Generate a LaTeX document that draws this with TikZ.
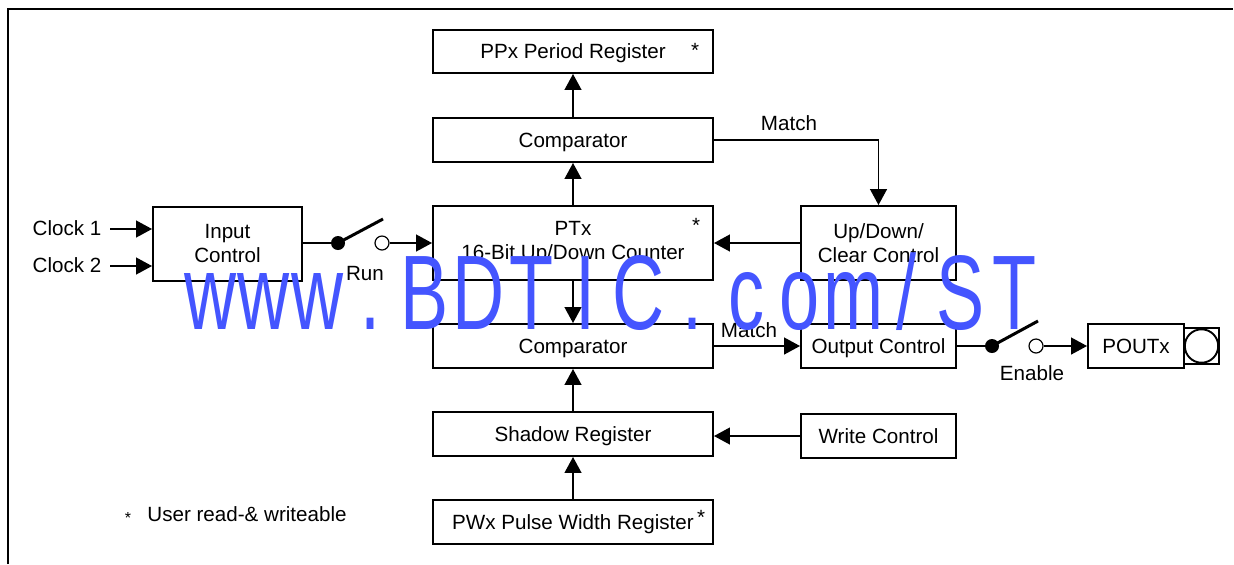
\documentclass[tikz,border=0pt]{standalone}
\usepackage{fontspec}
\usepackage{graphicx}
\setmainfont{Liberation Sans}
\usetikzlibrary{arrows.meta}
\definecolor{wmblue}{RGB}{68,85,255}
\newcommand\wmcell[1]{\makebox[26.8pt][c]{\scalebox{0.68}[1]{#1}}}
\begin{document}
\begin{tikzpicture}[x=0.5pt,y=-0.5pt,
  every node/.style={font=\fontsize{10.3}{12}\selectfont},
  box/.style={draw,line width=0.95pt,inner sep=0pt,align=center},
  onebox/.style={box,text depth=0pt},
  lbl/.style={inner sep=0pt},
  starmark/.style={inner sep=0pt,anchor=north},
  arr/.style={line width=0.95pt,-{Triangle[length=8pt,width=8.4pt]}},
  wire/.style={line width=0.95pt},
  lever/.style={line width=1.5pt},
  pindot/.style={circle,fill,inner sep=0pt,minimum size=7pt},
  pinopen/.style={circle,draw,line width=0.6pt,inner sep=0pt,minimum size=7pt}]
\useasboundingbox (0,0) rectangle (1234,564);
% frame
\draw[line width=0.9pt] (8,564) -- (8,9) -- (1233,9);
% boxes
\node[onebox,minimum width=140pt,minimum height=21.5pt] (ppx) at (573,51.5) {PPx Period Register};
\node[starmark] (ppxs) at (695,43) {*};
\node[onebox,minimum width=140pt,minimum height=22pt] (cmpa) at (573,140) {Comparator};
\node[box,minimum width=140pt,minimum height=37pt] (ptx) at (573,243) {PTx\\16-Bit Up/Down Counter};
\node[starmark] (ptxs) at (696,218) {*};
\node[box,minimum width=77.5pt,minimum height=37pt] (udc) at (878.5,243) {Up/Down/\\Clear Control};
\node[box,minimum width=74.5pt,minimum height=37pt] (inp) at (227.5,244) {Input\\Control};
\node[onebox,minimum width=140pt,minimum height=22pt] (cmpb) at (573,346) {Comparator};
\node[onebox,minimum width=77.5pt,minimum height=22pt] (outc) at (878.5,346) {Output Control};
\node[onebox,minimum width=48pt,minimum height=22pt] (pout) at (1136,346) {POUTx};
\node[draw,line width=0.95pt,inner sep=0pt,minimum width=17.5pt,minimum height=18pt] (pinsq) at (1201.5,346) {};
\node[circle,draw,line width=0.95pt,inner sep=0pt,minimum size=16.7pt] (pinc) at (1201.5,346) {};
\node[onebox,minimum width=140pt,minimum height=22pt] (shad) at (573,434) {Shadow Register};
\node[onebox,minimum width=77.5pt,minimum height=22pt] (wrc) at (878.5,436) {Write Control};
\node[onebox,minimum width=140pt,minimum height=22pt] (pwx) at (573,522) {PWx Pulse Width Register};
\node[starmark] (pwxs) at (701,510) {*};
% labels
\node[lbl] (clk1) at (67,228) {Clock 1};
\node[lbl] (clk2) at (67,265) {Clock 2};
\node[lbl] (run) at (365,273) {Run};
\node[lbl] (enable) at (1032,373) {Enable};
\node[lbl] (matcha) at (789,123) {Match};
\node[lbl] (matchb) at (749,330) {Match};
\node[starmark,font=\fontsize{8}{9}\selectfont] (fns) at (128,512) {*};
\node[lbl] (fnt) at (247,514) {User read-\& writeable};
% clock inputs
\coordinate (c1) at (110,229);
\coordinate (c2) at (110,266);
\draw[arr] (c1) -- (c1 -| inp.west);
\draw[arr] (c2) -- (c2 -| inp.west);
% run switch
\node[pindot] (rdot) at (338,243) {};
\node[pinopen] (ropen) at (382,243) {};
\coordinate (rlev) at (383,219);
\draw[wire] (rdot -| inp.east) -- (rdot);
\draw[lever] (rdot.center) -- (rlev);
\draw[arr] (ropen.east) -- (ropen -| ptx.west);
% vertical chain
\draw[arr] (cmpa.north) -- (ppx.south);
\draw[arr] (ptx.north) -- (cmpa.south);
\draw[arr] (ptx.south) -- (cmpb.north);
\draw[arr] (shad.north) -- (cmpb.south);
\draw[arr] (pwx.north) -- (shad.south);
% match paths
\draw[arr] (cmpa.east) -| (udc.north);
\draw[arr] (udc.west) -- (ptx.east);
\draw[arr] (cmpb.east) -- (outc.west);
\draw[arr] (wrc.west) -- (wrc.west -| shad.east);
% enable switch
\node[pindot] (edot) at (992,346) {};
\node[pinopen] (eopen) at (1036,346) {};
\coordinate (elev) at (1038,321);
\draw[wire] (outc.east) -- (edot);
\draw[lever] (edot.center) -- (elev);
\draw[arr] (eopen.east) -- (eopen -| pout.west);
% watermark
\node[inner sep=0pt,anchor=base west,text=wmblue,font=\fontsize{53}{53}\selectfont] (wm) at (183,329)
 {\wmcell{w}\wmcell{w}\wmcell{w}\wmcell{.}\wmcell{B}\wmcell{D}\wmcell{T}\wmcell{I}\wmcell{C}\wmcell{.}\wmcell{c}\wmcell{o}\wmcell{m}\wmcell{/}\wmcell{S}\wmcell{T}};
\end{tikzpicture}
\end{document}
